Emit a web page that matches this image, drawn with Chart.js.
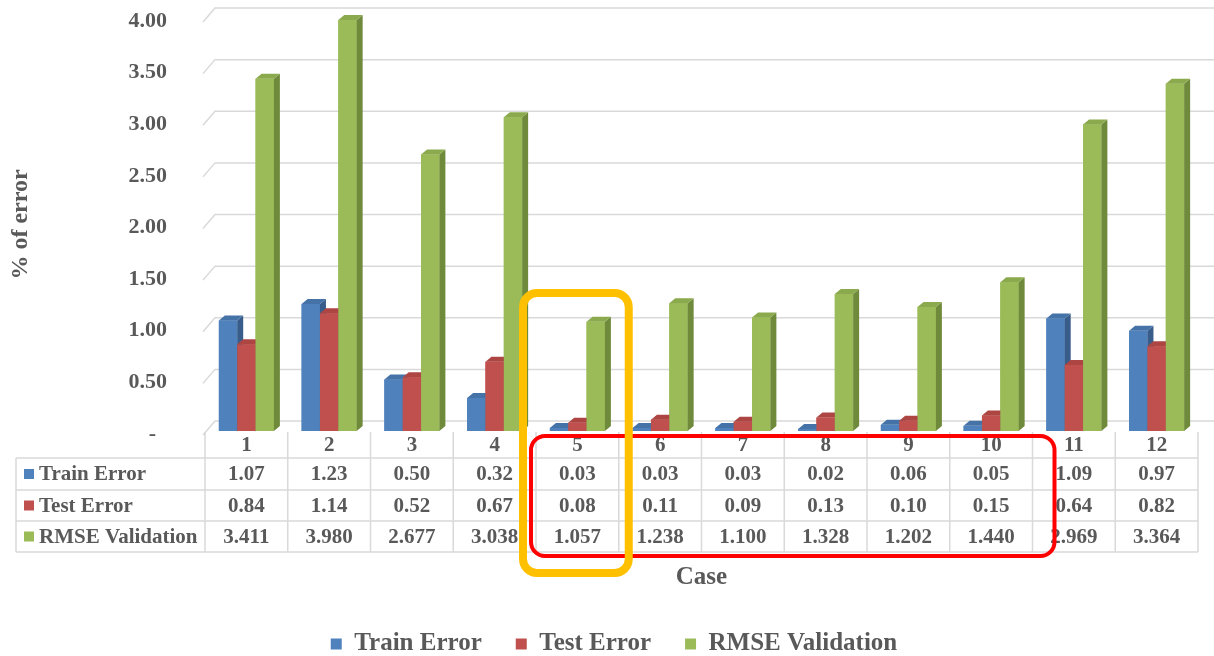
<!DOCTYPE html>
<html><head><meta charset="utf-8">
<script src="https://cdn.jsdelivr.net/npm/chart.js@4.4.1/dist/chart.umd.min.js"></script>
<style>html,body{margin:0;padding:0;background:#fff;overflow:hidden}canvas{display:block}</style>
</head><body>
<canvas id="c" width="1214" height="656"></canvas>
<script>
// ---- data ----
const categories = ['1','2','3','4','5','6','7','8','9','10','11','12'];
const trainError = [1.07, 1.23, 0.50, 0.32, 0.03, 0.03, 0.03, 0.02, 0.06, 0.05, 1.09, 0.97];
const testError  = [0.84, 1.14, 0.52, 0.67, 0.08, 0.11, 0.09, 0.13, 0.10, 0.15, 0.64, 0.82];
const rmseValidation = [3.411, 3.980, 2.677, 3.038, 1.057, 1.238, 1.100, 1.328, 1.202, 1.440, 2.969, 3.364];
const seriesNames = ['Train Error', 'Test Error', 'RMSE Validation'];
const seriesDecimals = [2, 2, 3];
const yTickValues = [0, 0.5, 1, 1.5, 2, 2.5, 3, 3.5, 4];
const xTitle = 'Case';
const yTitle = '% of error';
const orangeHighlight = [4, 4];   // category index range
const redHighlight = [4, 9];

// ---- style ----
const FONT = "'Liberation Serif', 'Times New Roman', serif";
const TXT = '#595959';
const colors = ['#4F81BD', '#C0504D', '#9BBB59'];
const sideColors = ['#385D8A', '#8C3836', '#6F8A3B'];
const topColors = ['#4573A8', '#AD4643', '#8BAA4E'];
const DX = 6, DY = 5;
const PAD_LEFT = 30;

function rr(ctx, x, y, w, h, r) {
  ctx.beginPath();
  ctx.moveTo(x + r, y);
  ctx.lineTo(x + w - r, y);
  ctx.arcTo(x + w, y, x + w, y + r, r);
  ctx.lineTo(x + w, y + h - r);
  ctx.arcTo(x + w, y + h, x + w - r, y + h, r);
  ctx.lineTo(x + r, y + h);
  ctx.arcTo(x, y + h, x, y + h - r, r);
  ctx.lineTo(x, y + r);
  ctx.arcTo(x, y, x + r, y, r);
  ctx.closePath();
}

const gridPlugin = {
  id: 'grid3d',
  beforeDatasetsDraw(chart) {
    const ctx = chart.ctx, ys = chart.scales.y, a = chart.chartArea;
    ctx.save();
    ctx.strokeStyle = '#D9D9D9';
    ctx.lineWidth = 1.5;
    yTickValues.forEach(v => {
      const yb = ys.getPixelForValue(v) - 10;
      ctx.beginPath();
      ctx.moveTo(a.left - 2, yb + 14);
      ctx.lineTo(a.left + 10, yb);
      ctx.lineTo(chart.width, yb);
      ctx.stroke();
    });
    ctx.restore();
  }
};

const bars3dPlugin = {
  id: 'bars3d',
  afterDatasetsDraw(chart) {
    const ctx = chart.ctx;
    ctx.save();
    categories.forEach((c, i) => {
      chart.data.datasets.forEach((ds, d) => {
        const el = chart.getDatasetMeta(d).data[i];
        const {x, y, base, width} = el.getProps(['x', 'y', 'base', 'width'], true);
        const l = x - width / 2, r = x + width / 2;
        ctx.fillStyle = colors[d];
        ctx.fillRect(l, y, width, base - y);
        ctx.fillStyle = sideColors[d];
        ctx.beginPath();
        ctx.moveTo(r, y); ctx.lineTo(r + DX, y - DY); ctx.lineTo(r + DX, base - DY); ctx.lineTo(r, base);
        ctx.closePath(); ctx.fill();
        ctx.fillStyle = topColors[d];
        ctx.beginPath();
        ctx.moveTo(l, y); ctx.lineTo(l + DX, y - DY); ctx.lineTo(r + DX, y - DY); ctx.lineTo(r, y);
        ctx.closePath(); ctx.fill();
      });
    });
    ctx.restore();
  }
};

const tablePlugin = {
  id: 'dataTable',
  afterDraw(chart) {
    const ctx = chart.ctx, xs = chart.scales.x;
    const left = xs.left, right = xs.right;
    const cw = (right - left) / categories.length;
    const rowTop = [432, 458, 490, 521, 552];
    const tableLeft = 16;
    ctx.save();
    ctx.strokeStyle = '#D9D9D9';
    ctx.lineWidth = 1.5;
    for (let k = 1; k < rowTop.length; k++) {
      ctx.beginPath(); ctx.moveTo(tableLeft, rowTop[k]); ctx.lineTo(right, rowTop[k]); ctx.stroke();
    }
    for (let i = 0; i <= categories.length; i++) {
      const xx = left + i * cw;
      ctx.beginPath(); ctx.moveTo(xx, rowTop[0]); ctx.lineTo(xx, rowTop[4]); ctx.stroke();
    }
    ctx.beginPath(); ctx.moveTo(tableLeft, rowTop[1]); ctx.lineTo(tableLeft, rowTop[4]); ctx.stroke();

    ctx.fillStyle = TXT;
    ctx.font = 'bold 21px ' + FONT;
    ctx.textAlign = 'center';
    ctx.textBaseline = 'middle';
    const series = [trainError, testError, rmseValidation];
    categories.forEach((c, i) => {
      const cx = xs.getPixelForValue(i);
      ctx.fillText(c, cx, (rowTop[0] + rowTop[1]) / 2 + 1);
      series.forEach((s, d) => {
        ctx.fillText(s[i].toFixed(seriesDecimals[d]), cx, (rowTop[d + 1] + rowTop[d + 2]) / 2 + 1);
      });
    });
    ctx.textAlign = 'left';
    seriesNames.forEach((n, d) => {
      const cy = (rowTop[d + 1] + rowTop[d + 2]) / 2;
      ctx.fillStyle = colors[d];
      ctx.fillRect(24, cy - 5, 10, 10);
      ctx.fillStyle = TXT;
      ctx.fillText(n, 39, cy + 1);
    });

    const colL = k => left + k * cw, colR = k => left + (k + 1) * cw;
    ctx.strokeStyle = '#FF0000';
    ctx.lineWidth = 4;
    const rx0 = colL(redHighlight[0]) - 5, rx1 = colR(redHighlight[1]) + 22;
    rr(ctx, rx0, 436, rx1 - rx0, 120, 14); ctx.stroke();
    ctx.strokeStyle = '#FFC000';
    ctx.lineWidth = 8;
    const ox0 = colL(orangeHighlight[0]) - 13, ox1 = colR(orangeHighlight[1]) + 10;
    rr(ctx, ox0, 293, ox1 - ox0, 280, 14); ctx.stroke();
    ctx.restore();
  }
};

const datasets = [trainError, testError, rmseValidation].map((vals, d) => ({
  label: seriesNames[d],
  data: vals,
  backgroundColor: colors[d],
  borderWidth: 0,
  barPercentage: 1,
  categoryPercentage: 0.665
}));

new Chart(document.getElementById('c'), {
  type: 'bar',
  data: { labels: categories, datasets },
  options: {
    responsive: false,
    animation: false,
    devicePixelRatio: 1,
    layout: { padding: { left: PAD_LEFT, right: 16, top: 18, bottom: -10.5 } },
    plugins: {
      legend: {
        position: 'bottom',
        labels: {
          boxWidth: 11, boxHeight: 11, padding: 34,
          color: TXT,
          font: { family: FONT, size: 25, weight: 'bold' }
        }
      },
      tooltip: { enabled: false }
    },
    scales: {
      x: {
        grid: { display: false },
        border: { display: false },
        ticks: { display: false },
        title: { display: true, text: xTitle, color: TXT,
                 font: { family: FONT, size: 25, weight: 'bold' }, padding: { top: 0, bottom: 4.5 } },
        afterFit(s) { s.height = 166.5; s.paddingLeft = 0; s.paddingRight = 0; }
      },
      y: {
        min: 0, max: 4,
        grid: { display: false },
        border: { display: false },
        ticks: {
          stepSize: 0.5, padding: 30, color: TXT, labelOffset: 3,
          font: { family: FONT, size: 22, weight: 'bold' },
          callback: v => v === 0 ? '-  ' : Number(v).toFixed(2)
        },
        title: { display: true, text: yTitle, color: TXT,
                 font: { family: FONT, size: 24, weight: 'bold' }, padding: { top: 6 - PAD_LEFT, bottom: 0 } },
        afterFit(s) { s.width = 205 - PAD_LEFT; s.paddingTop = 0; s.paddingBottom = 0; }
      }
    }
  },
  plugins: [gridPlugin, bars3dPlugin, tablePlugin]
});
</script>
</body></html>
